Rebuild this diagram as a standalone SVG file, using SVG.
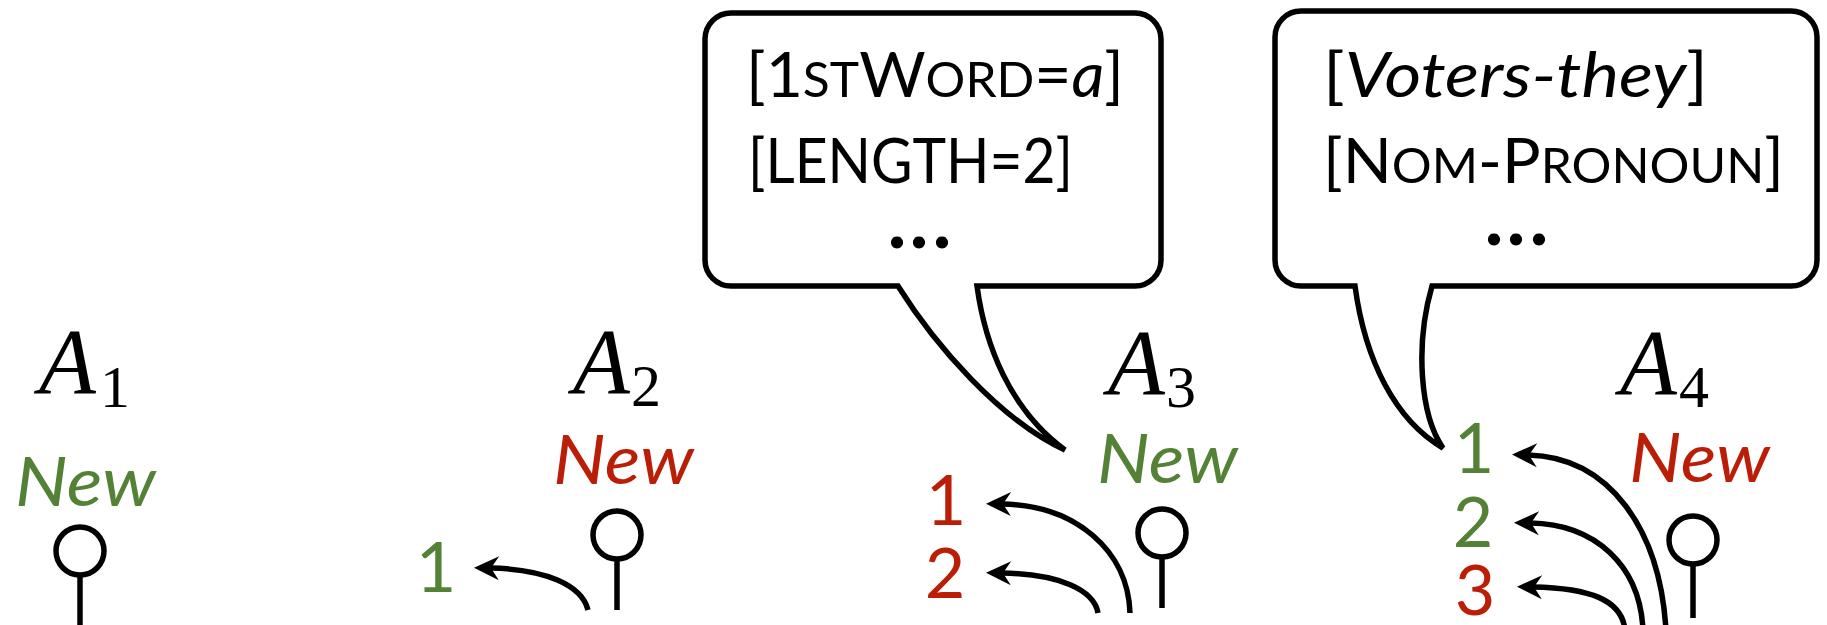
<svg xmlns="http://www.w3.org/2000/svg" width="1827" height="625" viewBox="0 0 1827 625">
  <style>
    .math { font-family: "Liberation Serif", "Times New Roman", serif; font-style: italic; font-size: 93px; fill: #000; }
    .sub { font-family: "Liberation Serif", "Times New Roman", serif; font-size: 60px; fill: #000; }
    .new { font-family: Lato, "Open Sans", sans-serif; font-style: italic; font-size: 68px; }
    .num { font-family: Lato, "Open Sans", sans-serif; font-size: 70px; text-anchor: middle; }
    .feat { font-family: Lato, "Open Sans", sans-serif; font-size: 62px; fill: #000; }
    .dots { font-family: Lato, "Open Sans", sans-serif; font-size: 80px; font-weight: bold; text-anchor: middle; fill: #000; }
    .sc { font-size: 48px; }
    .it { font-style: italic; }
    .green { fill: #538135; }
    .red { fill: #BB1E07; }
    .line { fill: none; stroke: #000; stroke-width: 5.5; }
    .bubble { fill: #fff; stroke: #000; stroke-width: 5.5; stroke-linejoin: miter; stroke-miterlimit: 4; }
    .arrow { fill: none; stroke: #000; stroke-width: 5.5; marker-end: url(#head); }
  </style>
  <defs>
    <marker id="head" markerUnits="userSpaceOnUse" viewBox="-12 -15 30 30" markerWidth="30" markerHeight="30" refX="0" refY="0" orient="auto">
      <path d="M16,0 L-9,-12 L-1,0 L-9,12 Z" fill="#000"/>
    </marker>
  </defs>

  <!-- mention A1 -->
  <g id="node-a1">
    <text class="math" x="39" y="393">A</text>
    <text class="sub" x="100" y="407">1</text>
    <text class="new green" x="15" y="506" textLength="141" lengthAdjust="spacingAndGlyphs">New</text>
    <circle class="line" cx="80" cy="551" r="24"/>
    <line class="line" x1="80" y1="575" x2="80" y2="630"/>
  </g>

  <!-- mention A2 -->
  <g id="node-a2">
    <text class="math" x="573" y="393">A</text>
    <text class="sub" x="631" y="406">2</text>
    <text class="new red" x="553" y="484" textLength="141" lengthAdjust="spacingAndGlyphs">New</text>
    <circle class="line" cx="617" cy="535" r="24"/>
    <line class="line" x1="617" y1="559" x2="617" y2="610"/>
    <text class="num green" x="436" y="592">1</text>
  </g>

  <!-- mention A3 -->
  <g id="node-a3">
    <text class="math" x="1108" y="394">A</text>
    <text class="sub" x="1166" y="407">3</text>
    <text class="new green" x="1097" y="483" textLength="141" lengthAdjust="spacingAndGlyphs">New</text>
    <circle class="line" cx="1162" cy="533" r="24"/>
    <line class="line" x1="1162" y1="557" x2="1162" y2="608"/>
    <text class="num red" x="946" y="525">1</text>
    <text class="num red" x="945" y="598">2</text>
  </g>

  <!-- mention A4 -->
  <g id="node-a4">
    <text class="math" x="1620" y="394">A</text>
    <text class="sub" x="1679" y="407">4</text>
    <text class="new red" x="1629" y="482" textLength="141" lengthAdjust="spacingAndGlyphs">New</text>
    <circle class="line" cx="1693" cy="540" r="24"/>
    <line class="line" x1="1693" y1="564" x2="1693" y2="618"/>
    <text class="num green" x="1474" y="473">1</text>
    <text class="num green" x="1473" y="547">2</text>
    <text class="num red" x="1475" y="615">3</text>
  </g>

  <!-- feature callout pointing at A3 -->
  <g id="callout-a3">
    <path class="bubble" d="M898,286 L731,286 A26,26 0 0 1 705,260 L705,39 A26,26 0 0 1 731,13 L1135,13 A26,26 0 0 1 1161,39 L1161,260 A26,26 0 0 1 1135,286 L977,286 C985,345 1010,410 1065,450 C1000,420 935,345 898,286 Z"/>
    <text class="feat" x="746" y="97" textLength="378" lengthAdjust="spacingAndGlyphs">[1<tspan class="sc">ST</tspan>W<tspan class="sc">ORD</tspan>=<tspan class="it">a</tspan>]</text>
    <text class="feat" x="748" y="183" textLength="325" lengthAdjust="spacingAndGlyphs">[LENGTH=2]</text>
    <text class="dots" x="897 919 942" y="248">...</text>
  </g>

  <!-- feature callout pointing at A4 -->
  <g id="callout-a4">
    <path class="bubble" d="M1355,286 L1301,286 A26,26 0 0 1 1275,260 L1275,37 A26,26 0 0 1 1301,11 L1791,11 A26,26 0 0 1 1817,37 L1817,260 A26,26 0 0 1 1791,286 L1432,286 C1415,345 1420,415 1443,448 C1395,420 1365,360 1355,286 Z"/>
    <text class="feat" x="1323" y="97" textLength="385" lengthAdjust="spacingAndGlyphs">[<tspan class="it">Voters-they</tspan>]</text>
    <text class="feat" x="1323" y="183" textLength="461" lengthAdjust="spacingAndGlyphs">[N<tspan class="sc">OM</tspan>-P<tspan class="sc">RONOUN</tspan>]</text>
    <text class="dots" x="1494 1516 1539" y="245">...</text>
  </g>

  <!-- links from each mention back to earlier candidates -->
  <g id="connectors">
    <path class="arrow" d="M588,610 C582,585 545,569 490,568"/>
    <path class="arrow" d="M1130,613 C1128,550 1075,505 1002,504"/>
    <path class="arrow" d="M1098,613 C1094,590 1060,574 1002,573"/>
    <path class="arrow" d="M1666,630 C1660,530 1610,457 1528,455"/>
    <path class="arrow" d="M1643,630 C1640,565 1595,524 1530,523"/>
    <path class="arrow" d="M1625,630 C1622,600 1590,588 1533,587"/>
  </g>
</svg>
